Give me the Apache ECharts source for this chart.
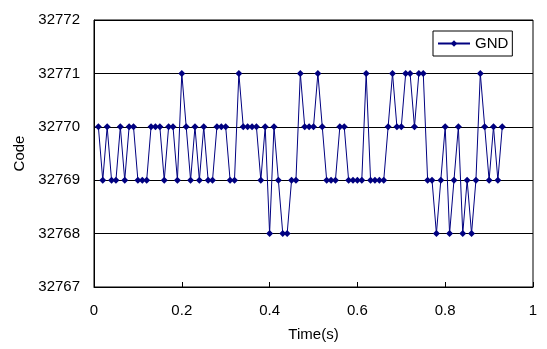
<!DOCTYPE html>
<html>
<head>
<meta charset="utf-8">
<script src="https://cdn.jsdelivr.net/npm/echarts@6/dist/echarts.min.js"></script>
<style>
  html, body { margin: 0; padding: 0; background: #fff; }
  #main { width: 547px; height: 349px; }
</style>
</head>
<body>
<div id="main"></div>
<script>
// time (s) of each sample
const times = [
  0.01, 0.02, 0.03, 0.04, 0.05, 0.06, 0.07, 0.08, 0.09, 0.10,
  0.11, 0.12, 0.13, 0.14, 0.15, 0.16, 0.17, 0.18, 0.19, 0.20,
  0.21, 0.22, 0.23, 0.24, 0.25, 0.26, 0.27, 0.28, 0.29, 0.30,
  0.31, 0.32, 0.33, 0.34, 0.35, 0.36, 0.37, 0.38, 0.39, 0.40,
  0.41, 0.42, 0.43, 0.44, 0.45, 0.46, 0.47, 0.48, 0.49, 0.50,
  0.51, 0.52, 0.53, 0.54, 0.55, 0.56, 0.57, 0.58, 0.59, 0.60,
  0.61, 0.62, 0.63, 0.64, 0.65, 0.66, 0.67, 0.68, 0.69, 0.70,
  0.71, 0.72, 0.73, 0.74, 0.75, 0.76, 0.77, 0.78, 0.79, 0.80,
  0.81, 0.82, 0.83, 0.84, 0.85, 0.86, 0.87, 0.88, 0.89, 0.90,
  0.91, 0.92, 0.93
];
// GND code readings
const gnd = [
  32770, 32769, 32770, 32769, 32769, 32770, 32769, 32770, 32770, 32769,
  32769, 32769, 32770, 32770, 32770, 32769, 32770, 32770, 32769, 32771,
  32770, 32769, 32770, 32769, 32770, 32769, 32769, 32770, 32770, 32770,
  32769, 32769, 32771, 32770, 32770, 32770, 32770, 32769, 32770, 32768,
  32770, 32769, 32768, 32768, 32769, 32769, 32771, 32770, 32770, 32770,
  32771, 32770, 32769, 32769, 32769, 32770, 32770, 32769, 32769, 32769,
  32769, 32771, 32769, 32769, 32769, 32769, 32770, 32771, 32770, 32770,
  32771, 32771, 32770, 32771, 32771, 32769, 32769, 32768, 32769, 32770,
  32768, 32769, 32770, 32768, 32769, 32768, 32769, 32771, 32770, 32769,
  32770, 32769, 32770
];
const seriesName = "GND";

const font = "'Liberation Sans', Arial, sans-serif";
const myChart = echarts.init(document.getElementById("main"));
myChart.setOption({
  animation: false,
  textStyle: { fontFamily: font },
  grid: {
    left: 94, right: 14, top: 20, bottom: 62,
    show: true, borderColor: "#000", borderWidth: 1,
  },
  legend: {
    data: [seriesName],
    left: 433,
    top: 31,
    padding: [5, 4, 5, 4],
    itemWidth: 32,
    itemHeight: 8,
    itemGap: 4,
    borderColor: "#000",
    borderWidth: 1,
    borderRadius: 0,
    textStyle: { color: "#000", fontSize: 15, fontFamily: font },
  },
  xAxis: {
    type: "value",
    min: 0,
    max: 1,
    interval: 0.2,
    name: "Time(s)",
    nameLocation: "middle",
    nameGap: 40,
    nameTextStyle: { color: "#000", fontSize: 15, fontFamily: font },
    axisLine: { lineStyle: { color: "#000", width: 1 } },
    axisTick: { inside: true, length: 5, lineStyle: { color: "#000" } },
    axisLabel: { color: "#000", fontSize: 15, margin: 16, fontFamily: font },
    splitLine: { show: false },
  },
  yAxis: {
    type: "value",
    min: 32767,
    max: 32772,
    interval: 1,
    name: "Code",
    nameLocation: "middle",
    nameGap: 66,
    nameRotate: 90,
    nameTextStyle: { color: "#000", fontSize: 15, fontFamily: font },
    axisLine: { show: true, lineStyle: { color: "#000", width: 1 } },
    axisTick: { show: true, inside: true, length: 5, lineStyle: { color: "#000" } },
    axisLabel: {
      color: "#000", fontSize: 15, margin: 14, fontFamily: font,
      formatter: (v) => String(v),
    },
    splitLine: { show: true, lineStyle: { color: "#000", width: 1 } },
  },
  series: [
    {
      name: seriesName,
      type: "line",
      data: times.map((t, i) => [t, gnd[i]]),
      symbol: "diamond",
      symbolSize: 7,
      showAllSymbol: true,
      itemStyle: { color: "#000080" },
      lineStyle: { color: "#000080", width: 1 },
    },
  ],
});
</script>
</body>
</html>
